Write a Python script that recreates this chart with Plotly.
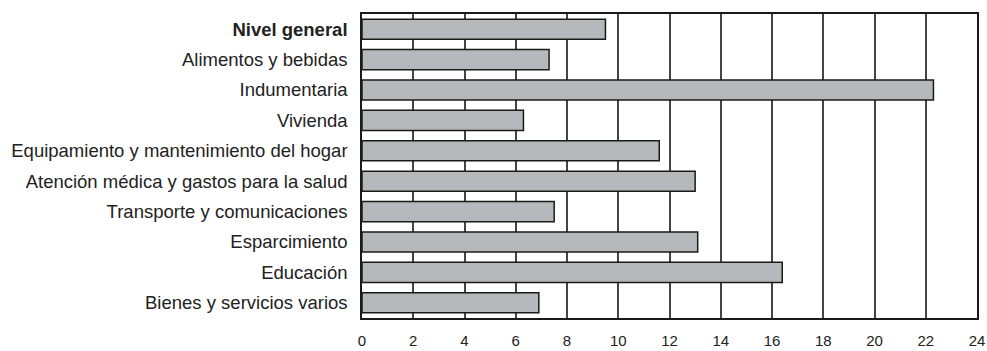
import plotly.graph_objects as go

categorias = [
    "<b>Nivel general</b>",
    "Alimentos y bebidas",
    "Indumentaria",
    "Vivienda",
    "Equipamiento y mantenimiento del hogar",
    "Atención médica y gastos para la salud",
    "Transporte y comunicaciones",
    "Esparcimiento",
    "Educación",
    "Bienes y servicios varios",
]
valores = [9.5, 7.3, 22.3, 6.3, 11.6, 13.0, 7.5, 13.1, 16.4, 6.9]
ticks_x = list(range(0, 25, 2))

fig = go.Figure(
    go.Bar(
        x=valores,
        y=categorias,
        orientation="h",
        width=0.66,
        marker=dict(color="#b7b8bb", line=dict(color="#1a1a1a", width=1.5)),
    )
)

fig.update_layout(
    width=987,
    height=351,
    margin=dict(l=362, r=10, t=14, b=33, autoexpand=False),
    plot_bgcolor="white",
    paper_bgcolor="white",
    font=dict(family="Liberation Sans, Arial, sans-serif", size=15, color="#222222"),
    showlegend=False,
)

fig.update_xaxes(
    range=[0, 24],
    tickvals=ticks_x,
    showgrid=True,
    gridcolor="#444444",
    gridwidth=1.5,
    showline=True,
    linecolor="#1a1a1a",
    linewidth=1.5,
    mirror=True,
    ticks="",
    ticklabelstandoff=8,
    tickfont=dict(size=15),
    zeroline=False,
    automargin=False,
)
fig.update_yaxes(
    categoryorder="array",
    categoryarray=categorias[::-1],
    showline=True,
    linecolor="#1a1a1a",
    linewidth=1.5,
    mirror=True,
    ticks="",
    ticklabelstandoff=9,
    tickfont=dict(size=18.5),
    showgrid=False,
    automargin=False,
)

fig.write_html(
    "out.html",
    config={"displayModeBar": False},
    post_script="document.body.style.margin='0';document.body.style.overflow='hidden';",
)
